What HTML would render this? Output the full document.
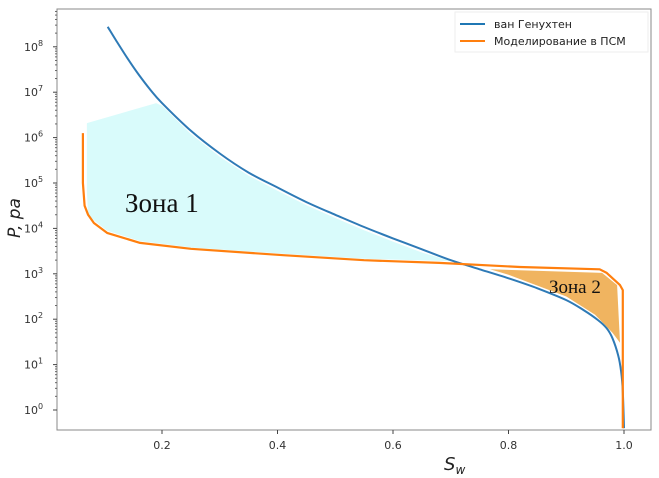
<!DOCTYPE html>
<html><head><meta charset="utf-8"><style>
body{margin:0;background:#fff}
svg{display:block;font-family:"DejaVu Sans","Liberation Sans",sans-serif}
</style></head><body>
<svg id="chart" width="659" height="478" viewBox="0 0 659 478">
<rect width="659" height="478" fill="#fff"/>
<g id="fills"></g>
<g id="lines"></g>
<rect x="57" y="9" width="594" height="421" fill="none" stroke="#888" stroke-width="1"/>
<g id="xticks"></g><g id="yticks"></g>
<text x="125" y="212" font-family="Liberation Serif,serif" font-size="27" fill="#111">Зона 1</text>
<text x="549" y="293" font-family="Liberation Serif,serif" font-size="19" fill="#111">Зона 2</text>
<text transform="translate(20,218) rotate(-90)" text-anchor="middle" font-size="17" font-style="italic" fill="#222">P, pa</text>
<text x="444" y="470" font-size="18" font-style="italic" fill="#222">S<tspan font-size="12" dy="4">w</tspan></text>
<g>
<rect x="455" y="12" width="193" height="40" fill="#fff" stroke="#eee"/>
<line x1="460" y1="24" x2="485" y2="24" stroke="#1f77b4" stroke-width="2"/>
<text x="494" y="28" font-size="11" fill="#222">ван Генухтен</text>
<line x1="460" y1="41" x2="485" y2="41" stroke="#ff7f0e" stroke-width="2"/>
<text x="494" y="45" font-size="11" fill="#222">Моделирование в ПСМ</text>
</g>
</svg>
<script>
const vgSw=[0.106,0.12,0.14,0.16,0.18,0.2,0.25,0.3,0.35,0.4,0.45,0.5,0.55,0.6,0.65,0.7,0.75,0.8,0.85,0.9,0.93,0.955,0.97,0.98,0.99,0.995,0.998,1.0];
const vgLogP=[8.44,8.15,7.75,7.38,7.05,6.76,6.15,5.65,5.23,4.9,4.58,4.3,4.03,3.78,3.54,3.3,3.1,2.9,2.68,2.42,2.2,1.98,1.8,1.58,1.2,0.85,0.4,-0.4];
const psmSw=[0.063,0.063,0.066,0.072,0.082,0.105,0.162,0.25,0.41,0.55,0.68,0.82,0.958,0.97,0.993,0.998,0.998];
const psmLogP=[6.1,5.0,4.5,4.3,4.12,3.9,3.68,3.55,3.41,3.3,3.24,3.15,3.1,3.02,2.75,2.64,-0.4];
const zone1Sw=[0.07,0.19,0.2,0.25,0.3,0.35,0.4,0.45,0.5,0.55,0.6,0.65,0.7,0.55,0.41,0.25,0.162,0.105,0.085,0.072,0.07];
const zone1LogP=[6.32,6.76,6.7,6.08,5.58,5.16,4.83,4.51,4.23,3.96,3.71,3.47,3.28,3.33,3.44,3.58,3.72,3.95,4.15,4.3,4.8];
const zone2Sw=[0.768,0.962,0.988,0.993,0.98,0.95,0.9,0.8];
const zone2LogP=[3.1,3.02,2.75,1.48,1.7,2.1,2.5,2.98];
const xTicks=[0.2,0.4,0.6,0.8,1.0];
const xTickLabels=["0.2","0.4","0.6","0.8","1.0"];
const yTicks=[0,1,2,3,4,5,6,7,8];
const sx=v=>46.5+v*577.5;
const sy=l=>410-l*45.4;
const NS="http://www.w3.org/2000/svg";
function mk(t,a,parent){const e=document.createElementNS(NS,t);for(const k in a)e.setAttribute(k,a[k]);document.getElementById(parent).appendChild(e);return e;}
function smooth(xs,ys){
 const p=xs.map((x,i)=>[sx(x),sy(ys[i])]);
 let d="M"+p[0][0].toFixed(1)+","+p[0][1].toFixed(1);
 for(let i=0;i<p.length-1;i++){
  const p0=p[Math.max(i-1,0)],p1=p[i],p2=p[i+1],p3=p[Math.min(i+2,p.length-1)];
  const c1=[p1[0]+(p2[0]-p0[0])/6,p1[1]+(p2[1]-p0[1])/6];
  const c2=[p2[0]-(p3[0]-p1[0])/6,p2[1]-(p3[1]-p1[1])/6];
  d+="C"+c1.map(v=>v.toFixed(1))+" "+c2.map(v=>v.toFixed(1))+" "+p2.map(v=>v.toFixed(1));
 }
 return d;
}
const pts=(xs,ys)=>xs.map((x,i)=>sx(x).toFixed(1)+","+sy(ys[i]).toFixed(1)).join(" ");
let e;
e=mk("polygon",{points:pts(zone1Sw,zone1LogP),fill:"#d9fbfb"},"fills");


e=mk("polygon",{points:pts(zone2Sw,zone2LogP),fill:"#f0b460"},"fills");


e=mk("path",{d:smooth(vgSw,vgLogP),fill:"none",stroke:"#2e7ab6","stroke-width":2},"lines");


e=mk("polyline",{points:pts(psmSw,psmLogP),fill:"none",stroke:"#ff7f0e","stroke-width":2.2,"stroke-linejoin":"round"},"lines");


xTicks.forEach((v,i)=>{
 const x=sx(v);
 let t=mk("line",{x1:x,y1:430,x2:x,y2:434,stroke:"#444"},"xticks");
 
 
 t=mk("text",{x:x,y:449,"text-anchor":"middle","font-size":11,fill:"#333"},"xticks");
 t.textContent=xTickLabels[i];
 
 
});
yTicks.forEach(v=>{
 const y=sy(v);
 let t=mk("line",{x1:53,y1:y,x2:57,y2:y,stroke:"#444"},"yticks");
 
 
 for(let k=2;k<10;k++){const yy=sy(v+Math.log10(k));if(yy>9){const m=mk("line",{x1:55,y1:yy,x2:57,y2:yy,stroke:"#666"},"yticks");}}
 t=mk("text",{x:24,y:y+4,"font-size":11,fill:"#333"},"yticks");
 t.innerHTML='10<tspan font-size="8" dy="-5">'+v+'</tspan>';
 
 
});
</script>
</body></html>
